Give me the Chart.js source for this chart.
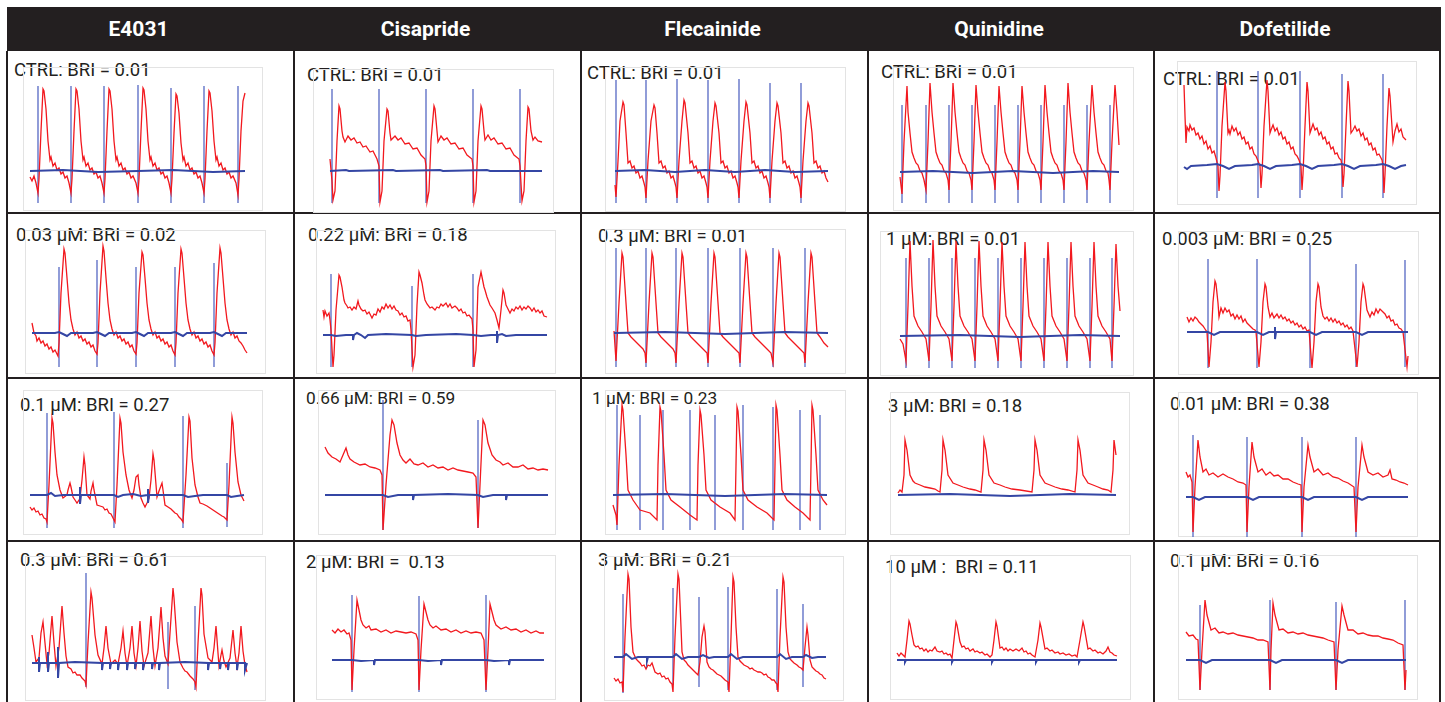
<!DOCTYPE html>
<html>
<head>
<meta charset="utf-8">
<script src="https://cdn.jsdelivr.net/npm/chart.js@4.4.1/dist/chart.umd.min.js"></script>
<style>
  body { margin: 0; background: #fff; }
  #page { position: relative; width: 1445px; height: 702px; overflow: hidden; font-family: Roboto, "Noto Sans", sans-serif; }
  .hdr { position: absolute; left: 7px; top: 7px; width: 1434px; height: 44px; background: #231f20; }
  .htxt { position: absolute; top: 7px; height: 44px; line-height: 44px; color: #fff; font-weight: bold; font-size: 21px; text-align: center; }
  .vl { position: absolute; width: 1.5px; background: #231f20; }
  .hl { position: absolute; height: 1.5px; background: #231f20; }
  .frame { position: absolute; border: 1px solid #e3e3e3; box-sizing: border-box; }
  .lbl { position: absolute; font-size: 18.5px; line-height: 20px; color: #231f20; white-space: pre; }
  canvas { position: absolute; }
</style>
</head>
<body>
<div id="page"></div>
<script>
// column headers and panel captions
const drugs = ['E4031', 'Cisapride', 'Flecainide', 'Quinidine', 'Dofetilide'];
const captions = [
  ['CTRL: BRI = 0.01', 'CTRL: BRI = 0.01', 'CTRL: BRI = 0.01', 'CTRL: BRI = 0.01', 'CTRL: BRI = 0.01'],
  ['0.03 μM: BRI = 0.02', '0.22 μM: BRI = 0.18', '0.3 μM: BRI = 0.01', '1 μM: BRI = 0.01', '0.003 μM: BRI = 0.25'],
  ['0.1 μM: BRI = 0.27', '0.66 μM: BRI = 0.59', '1 μM: BRI = 0.23', '3 μM: BRI = 0.18', '0.01 μM: BRI = 0.38'],
  ['0.3 μM: BRI = 0.61', '2 μM: BRI =  0.13', '3 μM: BRI = 0.21', '10 μM :  BRI = 0.11', '0.1 μM: BRI = 0.16']
];

// traces: red = [time, value], blue = [time, value], stim = [time, top, bottom]
// ---- E4031 ----
const e4031_ctrl_red = [[7,-6],[9,-10],[11,-5],[13,-12],[15,-22],[16,-8],[18,40],[20,82],[21,80],[23,62],[25,30],[27,11],[28,14],[30,5],[32,8],[34,1],[36,3],[38,-3],[40,-1],[42,-7],[44,-5],[46,-12],
  [48,-22],[49,-8],[51,40],[53,82],[54,80],[56,62],[58,30],[60,11],[61,14],[63,5],[65,8],[67,1],[69,3],[71,-3],[73,-1],[75,-7],[77,-5],[79,-12],
  [81,-22],[82,-8],[84,40],[86,82],[87,80],[89,62],[91,30],[93,11],[94,14],[96,5],[98,8],[100,1],[102,3],[104,-3],[106,-1],[108,-7],[110,-5],[113,-12],
  [115,-22],[116,-8],[118,40],[120,83],[121,81],[123,62],[125,30],[127,11],[128,14],[130,5],[132,8],[134,1],[136,3],[138,-3],[140,-1],[142,-7],[144,-5],[146,-12],
  [148,-22],[149,-8],[151,38],[153,77],[154,75],[156,58],[158,28],[160,11],[161,14],[163,5],[165,8],[167,1],[169,3],[171,-3],[173,-1],[175,-7],[177,-5],[179,-12],
  [181,-22],[182,-8],[184,40],[186,80],[187,78],[189,60],[191,30],[193,11],[194,14],[196,5],[198,8],[200,1],[202,3],[204,-3],[206,-1],[208,-7],[210,-5],[213,-12],
  [215,-24],[216,-8],[218,40],[220,70],[222,78]];
const e4031_ctrl_blue = [[7,0],[40,1],[75,-1],[115,0],[150,1],[190,-1],[222,0]];
const e4031_ctrl_stim = [[15,85,-32],[48,85,-32],[81,85,-32],[115,86,-32],[148,83,-32],[181,85,-32],[215,85,-32]];

const e4031_003_red = [[7,10],[9,0],[11,-3],[12,-8],[14,-5],[16,-10],[18,-8],[20,-13],[22,-11],[24,-16],[26,-14],[28,-19],[30,-17],[33,-23],[34,-10],[36,40],[39,84],[40,80],[42,55],[44,30],[46,13],[48,4],[50,-2],[52,1],[54,-5],[56,-3],[58,-8],[60,-6],[62,-11],[64,-9],[66,-14],[68,-12],[70,-18],[72,-21],
  [73,-10],[75,40],[78,87],[79,82],[81,55],[83,30],[85,13],[87,4],[89,-2],[91,1],[93,-5],[95,-3],[97,-8],[99,-6],[101,-11],[103,-9],[105,-14],[107,-12],[109,-18],[111,-21],
  [112,-10],[114,40],[117,81],[118,78],[120,55],[122,30],[124,13],[126,4],[128,-2],[130,1],[132,-5],[134,-3],[136,-8],[138,-6],[140,-11],[142,-9],[144,-14],[146,-12],[148,-18],[150,-22],
  [151,-10],[153,40],[156,84],[157,80],[159,55],[161,30],[163,13],[165,4],[167,-2],[169,1],[171,-5],[173,-3],[175,-8],[177,-6],[179,-11],[181,-9],[183,-14],[185,-12],[187,-18],[189,-22],
  [190,-10],[192,40],[195,85],[196,80],[198,55],[200,30],[202,13],[204,4],[206,-2],[208,1],[210,-5],[212,-3],[214,-8],[216,-10],[218,-13],[220,-17],[222,-20]];
const e4031_003_blue = [[7,0],[30,0],[34,1],[38,-1],[42,-3],[46,0],[68,0],[72,1],[76,-1],[80,-3],[84,0],[107,0],[111,1],[115,-1],[119,-3],[123,0],[146,0],[150,1],[154,-1],[158,-3],[162,0],[185,0],[189,1],[193,-1],[197,-3],[201,0],[222,0]];
const e4031_003_stim = [[34,66,-34],[72,73,-34],[111,66,-34],[150,66,-34],[189,70,-34]];

const e4031_01_red = [[7,-12],[9,-15],[11,-13],[13,-17],[15,-16],[17,-20],[19,-19],[21,-23],[23,-24],[24,-27],[26,10],[29,77],[30,72],[32,43],[34,20],[37,5],[40,-3],[44,0],[45,5],[47,12],[48,8],[50,-2],[52,-5],[54,-8],[56,-5],[57,-3],[59,15],[61,38],[62,30],[64,0],[67,-4],[68,4],[70,12],[71,5],[74,-10],[77,-11],[80,-12],[82,-15],[84,-14],[86,-18],[88,-19],[90,-23],[92,-27],
  [94,10],[97,77],[98,72],[100,43],[103,20],[106,5],[109,-3],[111,5],[113,18],[115,20],[116,10],[118,-3],[120,-8],[122,-12],[124,-8],[126,-3],[128,15],[130,41],[131,35],[134,-2],[136,4],[139,12],[140,5],[142,-10],[145,-12],[148,-14],[150,-16],[152,-18],[154,-19],[156,-22],[158,-24],[160,-27],
  [163,20],[166,78],[167,74],[169,37],[172,10],[175,-2],[177,-8],[180,-9],[184,-11],[187,-13],[190,-15],[193,-17],[196,-19],[199,-21],[201,-22],[204,-25],[206,10],[209,78],[210,72],[212,43],[215,13],[218,0],[221,-6]];
const e4031_01_blue = [[7,0],[24,0],[28,2],[32,-1],[40,0],[57,0],[57,8],[57,-9],[58,0],[70,0],[91,0],[95,-2],[100,0],[110,1],[118,-1],[125,0],[125,6],[125,-8],[126,0],[140,0],[160,0],[165,-2],[172,-1],[180,0],[204,0],[208,-2],[214,-1],[221,0]];
const e4031_01_stim = [[24,82,-33],[91,83,-33],[160,79,-33],[204,32,-32]];

const e4031_03_red = [[7,28],[9,15],[11,1],[14,5],[16,30],[18,41],[20,20],[22,-1],[24,10],[27,47],[29,20],[31,-3],[34,15],[37,57],[39,30],[41,7],[43,-4],[46,-6],[48,-10],[50,-9],[52,-12],[55,-12],[57,-15],[60,-18],[61,-22],[63,20],[66,71],[67,65],[70,28],[73,8],[77,-1],[79,15],[81,37],[83,15],[86,-1],[90,3],[93,-1],[96,15],[98,32],[100,10],[102,-3],[105,15],[107,37],[109,10],[111,-3],[113,15],[115,42],[117,12],[119,-3],[123,10],[126,47],[128,15],[130,-3],[133,15],[136,56],[138,25],[140,7],[143,-1],[145,30],[148,75],[149,65],[152,21],[155,1],[158,-5],[160,-8],[162,-9],[165,-13],[168,-16],[170,-19],[171,-24],[173,20],[176,75],[177,68],[179,29],[183,5],[187,1],[189,15],[191,37],[193,10],[194,-3],[196,8],[197,13],[199,2],[201,-4],[205,5],[208,33],[210,10],[212,-4],[214,10],[216,37],[218,12],[220,-2],[222,-9]];
const e4031_03_blue = [[7,0],[14,0],[14,6],[14,-9],[15,0],[23,0],[23,11],[23,-9],[24,0],[33,0],[33,16],[33,-15],[34,0],[50,1],[77,0],[77,-7],[78,0],[85,0],[85,-6],[86,0],[93,0],[93,-7],[94,0],[102,0],[102,-7],[103,0],[110,0],[110,-6],[111,0],[118,0],[118,-7],[119,0],[127,0],[127,-6],[128,0],[134,0],[134,-7],[135,0],[160,1],[183,0],[183,-7],[184,0],[195,0],[195,-6],[196,0],[203,0],[203,-7],[204,0],[212,0],[212,-7],[213,0],[220,0],[220,-7],[222,0]];
const e4031_03_stim = [[61,90,-24],[143,41,-26],[170,57,-27]];

// ---- Cisapride ----
const cisa_ctrl_red = [[17,12],[19,-10],[20,-29],[22,-20],[24,30],[26,65],[27,62],[29,40],[30,34],[32,29],[35,35],[38,31],[41,33],[44,28],[47,29],[50,24],[53,25],[57,19],[60,20],[64,12],
  [66,5],[67,-31],[69,-20],[71,30],[74,62],[75,60],[77,38],[78,31],[82,35],[85,31],[88,33],[92,27],[96,28],[100,22],[104,23],[108,16],[112,12],
  [113,5],[114,-31],[116,-20],[118,30],[121,65],[122,62],[124,40],[125,29],[128,35],[131,31],[134,33],[138,27],[142,28],[146,22],[150,23],[154,16],[159,12],
  [160,5],[161,-31],[163,-20],[165,30],[168,65],[169,62],[171,40],[172,31],[175,36],[178,31],[181,33],[185,27],[189,28],[193,22],[197,23],[201,16],[206,12],
  [207,5],[209,-30],[211,-20],[213,30],[215,64],[216,62],[218,40],[220,31],[222,34],[225,30],[229,29]];
const cisa_ctrl_blue = [[17,0],[33,1],[36,0],[80,1],[83,0],[127,1],[130,0],[174,1],[177,0],[229,0]];
const cisa_ctrl_stim = [[19,82,-32],[66,82,-32],[113,82,-32],[160,82,-32],[207,82,-32]];

const cisa_022_red = [[7,25],[8,18],[9,24],[11,19],[13,22],[14,15],[15,5],[17,-32],[18,-20],[20,25],[23,60],[24,58],[26,48],[28,35],[29,32],[31,29],[32,27],[34,28],[36,25],[38,28],[40,26],[42,34],[43,30],[45,26],[47,24],[49,25],[51,21],[53,23],[56,17],[58,21],[60,20],[62,26],[64,23],[66,28],[68,26],[70,31],[72,27],[74,30],[76,26],[78,29],[80,25],[82,24],[84,20],[86,22],[88,18],[90,19],[92,14],[94,15],[95,5],[97,-32],[99,-20],[101,30],[103,63],[104,60],[106,52],[108,40],[109,35],[111,31],[114,27],[116,28],[119,25],[121,28],[123,27],[125,31],[127,29],[130,32],[132,28],[134,31],[136,27],[139,29],[141,27],[143,24],[145,26],[147,22],[149,23],[151,19],[153,20],[156,16],[157,5],[158,-32],[160,-15],[162,48],[165,63],[166,58],[168,48],[169,45],[171,38],[174,30],[176,27],[179,22],[181,15],[183,7],[185,25],[187,45],[188,42],[190,30],[191,28],[194,22],[196,26],[198,24],[200,28],[202,26],[204,29],[206,25],[208,28],[210,26],[212,29],[214,27],[216,24],[218,27],[220,23],[222,25],[224,22],[226,24],[228,19],[231,18]];
const cisa_022_blue = [[7,0],[15,0],[20,-1],[30,0],[37,0],[37,-5],[38,0],[41,2],[45,0],[49,-3],[52,0],[70,1],[96,0],[100,-1],[110,0],[140,1],[157,0],[165,-1],[175,0],[181,0],[181,4],[181,-8],[182,0],[186,1],[190,-1],[200,0],[231,0]];
const cisa_022_stim = [[15,61,-32],[96,49,-32],[157,61,-32]];

const cisa_066_red = [[7,48],[10,42],[14,38],[18,36],[22,33],[25,40],[28,47],[30,40],[32,36],[36,33],[42,30],[47,31],[52,28],[57,27],[62,25],[64,20],[65,-35],[68,10],[72,60],[74,75],[76,70],[79,52],[82,40],[85,35],[88,32],[92,36],[96,31],[100,30],[105,32],[110,28],[115,30],[120,27],[125,28],[130,25],[135,27],[140,25],[145,24],[150,23],[155,22],[158,18],[160,-33],[162,10],[165,75],[167,70],[170,52],[174,40],[178,35],[182,33],[185,30],[190,32],[195,28],[200,28],[205,30],[210,26],[215,27],[220,25],[225,26],[230,25]];
const cisa_066_blue = [[7,0],[65,0],[70,-2],[80,0],[95,0],[95,-5],[96,0],[130,1],[160,0],[165,-2],[175,0],[188,0],[188,-5],[189,0],[230,0]];
const cisa_066_stim = [[65,95,-35],[160,75,-33]];

const cisa_2_red = [[16,30],[19,27],[22,31],[25,28],[28,30],[31,26],[33,27],[35,20],[36,-30],[38,10],[41,60],[43,50],[45,40],[47,35],[50,32],[53,34],[55,30],[60,31],[65,28],[70,30],[75,27],[80,29],[85,28],[90,27],[95,28],[100,26],[102,20],[103,-30],[105,10],[108,56],[110,48],[112,40],[114,35],[117,32],[120,34],[125,30],[130,31],[135,28],[140,30],[145,27],[150,29],[155,27],[160,28],[165,27],[168,20],[170,-30],[172,10],[174,56],[176,48],[178,40],[180,35],[185,31],[190,33],[195,30],[200,31],[205,28],[210,30],[215,27],[220,29],[224,27],[228,27]];
const cisa_2_blue = [[16,0],[36,0],[45,-1],[58,0],[58,-5],[59,0],[103,0],[112,-1],[125,0],[125,-5],[126,0],[170,0],[178,-1],[193,0],[193,-5],[194,0],[228,0]];
const cisa_2_stim = [[36,65,-32],[103,64,-32],[170,65,-32]];

// ---- Flecainide ----
const fleca_ctrl_red = [[10,-14],[11,-26],[13,10],[15,50],[18,69],[19,66],[21,38],[23,8],[25,10],[27,3],[29,5],[31,-2],[33,0],[35,-7],[37,-5],[39,-12],[40,-16],
  [41,-27],[43,10],[46,50],[49,66],[50,63],[52,38],[54,8],[56,10],[58,3],[60,5],[62,-2],[64,0],[66,-7],[68,-5],[70,-12],[71,-16],
  [72,-27],[74,10],[77,50],[79,71],[80,68],[83,38],[85,8],[87,10],[89,3],[91,5],[93,-2],[95,0],[97,-7],[99,-5],[101,-12],[102,-16],
  [103,-27],[105,10],[108,50],[110,68],[111,65],[114,38],[116,8],[118,10],[120,3],[122,5],[124,-2],[126,0],[128,-7],[130,-5],[132,-12],[133,-16],
  [134,-27],[136,10],[139,50],[141,69],[142,66],[145,38],[147,8],[149,10],[151,3],[153,5],[155,-2],[157,0],[159,-7],[161,-5],[163,-12],[164,-16],
  [165,-27],[167,10],[170,50],[172,68],[173,65],[176,38],[178,8],[180,10],[182,3],[184,5],[186,-2],[188,0],[190,-7],[192,-5],[194,-12],[195,-16],
  [196,-27],[198,10],[201,50],[203,68],[204,65],[207,38],[209,8],[211,10],[213,3],[215,5],[217,-2],[219,0],[221,-7],[223,-11]];
const fleca_ctrl_blue = [[10,0],[40,1],[70,-1],[100,1],[130,-1],[160,1],[190,-1],[223,0]];
const fleca_ctrl_stim = [[11,91,-32],[41,91,-32],[72,92,-32],[103,91,-32],[134,92,-32],[165,88,-32],[196,88,-32]];

const fleca_03_red = [[9,2],[11,-28],[14,30],[17,80],[18,76],[21,30],[23,0],[26,-4],[30,-8],[34,-12],[38,-16],[40,-20],[41,-30],[44,30],[47,80],[48,76],[51,30],[53,0],[56,-4],[60,-8],[64,-12],[68,-16],[70,-20],[71,-30],[74,30],[77,80],[78,76],[81,30],[83,0],[86,-4],[90,-8],[94,-12],[98,-16],[102,-20],[103,-30],[106,30],[109,80],[110,76],[113,30],[115,0],[118,-4],[122,-8],[126,-12],[130,-16],[134,-20],[135,-30],[138,30],[141,80],[142,76],[145,30],[147,0],[150,-4],[154,-8],[158,-12],[162,-16],[166,-20],[168,-30],[171,30],[174,80],[175,76],[178,30],[180,0],[183,-4],[187,-8],[191,-12],[195,-16],[199,-20],[200,-30],[203,30],[206,80],[207,76],[210,30],[212,0],[215,-4],[219,-10],[223,-14]];
const fleca_03_blue = [[9,0],[60,1],[120,-1],[180,1],[223,0]];
const fleca_03_stim = [[11,85,-34],[41,85,-34],[71,85,-34],[103,85,-34],[135,85,-34],[168,85,-34],[200,85,-34]];

const fleca_1_red = [[8,-10],[11,-20],[12,-30],[14,30],[17,90],[18,85],[21,40],[23,5],[28,-5],[35,-15],[45,-18],[52,-25],[53,30],[55,88],[56,84],[59,40],[61,5],[66,-5],[75,-12],[85,-20],[92,-25],[93,30],[95,85],[96,80],[99,40],[101,5],[106,-5],[115,-12],[125,-18],[130,-25],[131,30],[132,88],[133,84],[136,40],[138,5],[143,-5],[152,-12],[162,-18],[169,-25],[170,30],[171,90],[172,85],[175,40],[177,5],[182,-5],[190,-12],[198,-18],[205,-25],[206,30],[207,90],[208,85],[211,40],[213,5],[218,-5],[222,-10]];
const fleca_1_blue = [[8,0],[60,1],[120,-1],[180,1],[222,0]];
const fleca_1_stim = [[12,90,-35],[35,80,-35],[58,85,-35],[85,85,-35],[110,80,-35],[138,90,-35],[168,88,-35],[195,85,-35],[215,80,-35]];

const fleca_3_red = [[10,-21],[12,-24],[14,-22],[16,-26],[18,-25],[19,-35],[21,20],[24,83],[25,78],[27,30],[29,5],[32,-2],[34,-4],[36,-6],[38,-9],[40,-8],[42,-12],[44,-8],[46,-9],[48,-6],[50,-12],[51,-15],[54,-17],[56,-16],[58,-20],[60,-19],[62,-22],[64,-21],[66,-25],[68,-27],[69,-35],[71,20],[74,83],[75,78],[77,30],[78,5],[80,-3],[82,-5],[84,-8],[86,-10],[88,-12],[90,-14],[92,-16],[94,-18],[96,-5],[98,20],[100,31],[101,25],[103,-5],[105,-10],[107,-12],[109,-13],[111,-15],[113,-17],[115,-18],[117,-19],[119,-21],[121,-23],[124,-25],[125,-35],[127,20],[129,80],[130,75],[132,30],[134,0],[136,-4],[138,-6],[140,-8],[142,-9],[144,-10],[146,-12],[148,-11],[150,-13],[152,-14],[154,-15],[156,-15],[158,-16],[160,-18],[162,-17],[164,-20],[166,-21],[168,-23],[170,-23],[172,-26],[173,-27],[174,-35],[176,20],[179,80],[180,75],[182,30],[184,5],[186,-2],[188,-4],[190,-6],[193,-8],[195,-10],[197,-11],[199,-13],[201,10],[203,30],[204,22],[206,-3],[208,-10],[210,-12],[212,-14],[214,-15],[216,-17],[218,-18],[220,-21],[222,-22]];
const fleca_3_blue = [[10,0],[19,0],[22,3],[28,-2],[34,0],[43,0],[43,-4],[44,0],[69,0],[72,3],[78,-2],[84,0],[95,0],[99,2],[105,-1],[110,0],[124,0],[127,3],[133,-2],[139,0],[173,0],[176,3],[182,-2],[188,0],[199,0],[202,2],[208,-1],[214,0],[222,0]];
const fleca_3_stim = [[19,63,-36],[69,69,-28],[95,60,-30],[124,70,-33],[173,68,-33],[199,53,-30]];

// ---- Quinidine ----
const quin_ctrl_red = [[7,-5],[9,-22],[11,30],[14,86],[15,60],[17,39],[19,20],[21,14],[23,9],[25,7],[27,1],[29,-1],[31,-8],
  [33,-18],[35,30],[37,89],[39,60],[41,39],[43,20],[45,14],[47,9],[49,7],[51,1],[53,-1],[55,-8],
  [56,-18],[58,30],[60,89],[62,60],[64,39],[66,20],[68,14],[70,9],[72,7],[74,1],[76,-1],[78,-8],
  [79,-18],[81,30],[83,87],[85,60],[87,39],[89,20],[91,14],[93,9],[95,7],[97,1],[99,-1],[101,-8],
  [102,-18],[104,30],[106,86],[108,60],[110,39],[112,20],[114,14],[116,9],[118,7],[120,1],[122,-1],[124,-8],
  [125,-18],[127,30],[129,86],[131,60],[133,39],[135,20],[137,14],[139,9],[141,7],[143,1],[145,-1],[147,-8],
  [148,-18],[150,30],[152,87],[154,60],[156,39],[158,20],[160,14],[162,9],[164,7],[166,1],[168,-1],[170,-8],
  [171,-18],[173,30],[175,89],[177,60],[179,39],[181,20],[183,14],[185,9],[187,7],[189,1],[191,-1],[193,-8],
  [194,-18],[196,30],[199,87],[201,60],[203,39],[205,20],[207,14],[209,9],[211,7],[213,1],[215,-1],[216,-8],
  [217,-18],[219,30],[222,87],[224,60],[226,27]];
const quin_ctrl_blue = [[7,0],[40,1],[80,-1],[120,1],[160,-1],[200,1],[226,0]];
const quin_ctrl_stim = [[9,67,-31],[33,67,-31],[56,67,-31],[79,67,-31],[102,67,-31],[125,67,-31],[148,67,-31],[171,67,-31],[194,67,-31],[217,67,-31]];

const quin_1_red = [[20,-3],[23,-8],[26,-25],[28,30],[30,95],[32,50],[34,20],[38,10],[42,4],[46,-3],
  [49,-25],[51,30],[53,96],[55,50],[57,20],[61,10],[65,4],[69,-3],
  [72,-25],[74,30],[76,95],[78,50],[80,20],[84,10],[88,4],[92,-3],
  [95,-25],[97,30],[99,95],[101,50],[103,20],[107,10],[111,4],[115,-3],
  [118,-25],[120,30],[122,94],[124,50],[126,20],[130,10],[134,4],[138,-3],
  [141,-25],[143,30],[145,94],[147,50],[149,20],[153,10],[157,4],[161,-3],
  [164,-25],[166,30],[168,94],[170,50],[172,20],[176,10],[180,4],[184,-3],
  [187,-25],[189,30],[191,94],[193,50],[195,20],[199,10],[203,4],[207,-3],
  [210,-25],[212,30],[214,94],[216,50],[218,20],[222,10],[226,4],[230,-3],
  [232,-25],[234,30],[236,92],[238,50],[240,25]];
const quin_1_blue = [[20,0],[80,1],[140,-1],[200,1],[240,0]];
const quin_1_stim = [[26,78,-32],[49,78,-32],[72,78,-32],[95,78,-32],[118,78,-32],[141,78,-32],[164,78,-32],[187,78,-32],[210,78,-32],[232,78,-32]];

const quin_3_red = [[8,2],[10,5],[12,3],[14,20],[15,55],[17,45],[20,20],[23,14],[25,12],[30,10],[35,8],[40,7],[45,6],[48,4],[50,3],[52,25],[53,55],[55,45],[58,20],[63,12],[68,10],[73,8],[80,6],[85,5],[91,3],[93,25],[94,55],[96,45],[99,20],[104,12],[110,10],[115,8],[122,6],[130,5],[142,3],[144,25],[145,55],[147,45],[150,20],[155,12],[160,10],[165,8],[172,6],[178,5],[185,3],[187,25],[188,55],[190,45],[193,20],[198,12],[203,10],[208,8],[213,6],[218,5],[221,3],[223,25],[224,55],[226,40]];
const quin_3_blue = [[8,0],[60,1],[120,-1],[180,1],[226,0]];
const quin_3_stim = [];

const quin_10_red = [[7,7],[9,4],[11,7],[13,5],[15,3],[17,20],[19,39],[20,36],[22,25],[24,15],[26,13],[28,14],[30,11],[32,12],[34,9],[36,11],[38,8],[40,10],[42,9],[45,13],[47,9],[50,8],[52,9],[54,6],[56,7],[58,5],[60,6],[62,2],[64,20],[66,38],[67,35],[70,18],[72,13],[74,14],[76,11],[78,12],[80,9],[83,11],[85,8],[87,9],[90,7],[92,8],[95,5],[97,6],[100,3],[102,5],[104,20],[106,38],[107,34],[110,12],[112,13],[114,10],[116,12],[118,9],[120,11],[123,9],[126,11],[129,9],[132,12],[134,8],[136,9],[138,6],[140,7],[142,5],[145,3],[148,20],[150,37],[151,33],[155,11],[157,12],[160,9],[162,10],[165,7],[168,8],[170,6],[173,7],[176,5],[179,6],[182,4],[185,5],[187,3],[190,20],[193,38],[194,34],[198,11],[200,12],[203,9],[205,10],[208,7],[210,8],[213,6],[216,9],[218,13],[220,8],[222,7],[224,5],[227,4]];
const quin_10_blue = [[7,0],[15,0],[15,-2],[16,0],[62,0],[62,-2],[63,0],[102,0],[102,-2],[103,0],[146,0],[146,-2],[147,0],[189,0],[189,-2],[190,0],[227,0]];
const quin_10_stim = [];

// ---- Dofetilide ----
const dofe_ctrl_red = [[7,81],[8,50],[9,23],[10,39],[12,35],[13,41],[15,36],[17,38],[19,31],[21,33],[23,27],[25,30],[27,22],[29,25],[31,17],[33,20],[35,13],[37,15],[39,8],[41,0],[42,-25],[43,-10],[45,40],[48,84],[49,75],[51,33],[52,36],[53,32],[55,40],[57,35],[59,38],[61,31],[63,34],[65,27],[67,29],[69,22],[71,24],[73,17],[75,19],[77,12],[79,10],[81,5],
  [83,0],[84,-22],[85,-8],[87,40],[90,86],[91,75],[93,33],[94,36],[96,41],[98,35],[100,38],[102,31],[104,34],[106,27],[108,29],[110,22],[112,24],[114,17],[116,19],[118,12],[120,10],[122,6],
  [124,0],[125,-24],[126,-8],[128,40],[130,84],[131,75],[133,33],[134,36],[136,42],[138,36],[140,38],[142,31],[144,34],[146,27],[148,29],[150,22],[152,24],[154,17],[156,19],[158,12],[160,13],[162,8],[164,6],
  [165,0],[166,-21],[167,-8],[169,40],[171,85],[172,75],[174,33],[176,36],[178,40],[180,35],[182,37],[184,30],[186,33],[188,26],[190,28],[192,21],[194,23],[196,16],[198,18],[200,11],[202,12],[204,8],[205,6],
  [206,0],[207,-27],[208,-8],[210,40],[212,78],[213,70],[216,24],[218,35],[220,42],[222,34],[224,37],[226,29],[229,26]];
const dofe_ctrl_blue = [[7,-1],[10,-3],[14,0],[30,1],[40,2],[46,0],[52,-3],[58,0],[75,1],[81,2],[87,0],[93,-3],[99,0],[115,1],[123,2],[129,0],[135,-3],[141,0],[157,1],[165,2],[171,0],[177,-3],[183,0],[199,1],[206,2],[212,0],[218,-3],[224,0],[229,1]];
const dofe_ctrl_stim = [[40,95,-32],[81,95,-32],[123,95,-32],[165,92,-32],[206,92,-32]];

const dofe_0003_red = [[9,15],[11,10],[13,14],[15,11],[17,15],[19,13],[21,10],[23,8],[25,6],[27,3],[29,0],[31,-35],[33,-10],[35,30],[37,51],[38,48],[40,29],[41,15],[43,24],[45,19],[47,24],[49,20],[51,22],[53,16],[55,18],[57,13],[59,17],[61,13],[63,16],[65,10],[67,13],[69,9],[71,7],[73,5],[75,3],[77,2],[78,0],[81,-35],[83,-10],[85,30],[87,48],[88,45],[90,25],[92,15],[94,19],[96,14],[99,18],[101,14],[103,17],[105,13],[107,15],[109,11],[111,13],[113,9],[115,11],[117,7],[119,9],[121,5],[123,7],[125,3],[127,5],[129,1],[131,2],[134,-36],[136,-10],[138,30],[140,48],[141,45],[143,25],[145,16],[147,13],[149,15],[151,11],[153,14],[155,10],[157,13],[159,9],[161,11],[163,7],[165,9],[167,5],[169,7],[171,3],[173,5],[175,1],[179,-35],[181,-10],[183,30],[185,48],[186,45],[189,22],[192,15],[194,20],[196,17],[198,23],[200,19],[202,23],[205,20],[207,18],[209,14],[211,16],[213,11],[215,12],[217,7],[219,8],[221,4],[223,3],[225,0],[229,-35],[230,-24]];
const dofe_0003_blue = [[9,0],[30,0],[36,-3],[42,0],[79,0],[85,-3],[91,0],[97,0],[97,5],[97,-7],[98,0],[132,0],[138,-3],[144,0],[178,0],[184,-3],[190,0],[230,0]];
const dofe_0003_stim = [[30,73,-36],[79,73,-36],[132,87,-36],[178,68,-35],[227,72,-35]];

const dofe_001_red = [[8,25],[10,20],[12,22],[14,15],[15,-35],[17,10],[20,57],[22,40],[25,25],[28,28],[31,22],[35,24],[40,20],[45,23],[50,20],[55,18],[60,15],[65,14],[68,12],[69,-35],[71,10],[74,55],[76,40],[80,25],[84,28],[88,22],[92,25],[96,21],[100,22],[105,18],[110,18],[115,15],[120,13],[123,12],[124,-35],[126,10],[130,52],[132,40],[136,25],[140,28],[145,22],[150,24],[155,20],[160,19],[165,16],[170,14],[176,10],[178,-35],[180,10],[184,52],[186,40],[190,25],[195,22],[200,24],[205,20],[210,22],[212,27],[214,18],[218,17],[222,15],[226,14],[230,12]];
const dofe_001_blue = [[8,0],[15,0],[21,-3],[27,0],[69,0],[75,-3],[81,0],[124,0],[130,-3],[136,0],[178,0],[184,-3],[190,0],[230,0]];
const dofe_001_stim = [[15,62,-41],[69,60,-41],[124,60,-41],[178,60,-41]];

const dofe_01_red = [[8,28],[11,24],[15,25],[18,21],[20,20],[22,-30],[24,10],[27,60],[29,45],[33,30],[37,32],[41,27],[45,28],[50,26],[55,27],[60,25],[65,24],[70,23],[75,22],[80,20],[85,20],[90,18],[92,-30],[93,10],[95,57],[97,45],[101,30],[105,31],[110,27],[115,28],[120,26],[125,27],[130,25],[135,24],[140,23],[145,22],[150,20],[156,18],[158,-30],[160,10],[164,54],[166,45],[170,30],[175,30],[180,26],[185,27],[190,25],[195,24],[200,24],[205,22],[210,21],[215,20],[220,17],[225,15],[227,-30],[228,-10]];
const dofe_01_blue = [[8,0],[22,0],[28,-3],[34,0],[92,0],[98,-3],[104,0],[158,0],[164,-3],[170,0],[228,0]];
const dofe_01_stim = [[22,55,-30],[92,60,-30],[158,58,-30],[227,60,-30]];

// panel layout: frame [left, top, right, bottom], baseline y, caption [left, centre y, font px]
const panels = [
  { r: 0, c: 0, frame: [23, 67, 263, 211], base: 171, cap: [14, 70, 18.5], red: e4031_ctrl_red, blue: e4031_ctrl_blue, stim: e4031_ctrl_stim },
  { r: 0, c: 1, frame: [313, 69, 554, 213], base: 171, cap: [307, 75, 18.5], red: cisa_ctrl_red, blue: cisa_ctrl_blue, stim: cisa_ctrl_stim },
  { r: 0, c: 2, frame: [605, 67, 846, 212], base: 171, cap: [587, 73, 18.5], red: fleca_ctrl_red, blue: fleca_ctrl_blue, stim: fleca_ctrl_stim },
  { r: 0, c: 3, frame: [893, 67, 1134, 211], base: 172, cap: [881, 72, 18.5], red: quin_ctrl_red, blue: quin_ctrl_blue, stim: quin_ctrl_stim },
  { r: 0, c: 4, frame: [1177, 61, 1417, 205], base: 166, cap: [1163, 79, 18.5], red: dofe_ctrl_red, blue: dofe_ctrl_blue, stim: dofe_ctrl_stim },
  { r: 1, c: 0, frame: [25, 230, 266, 374], base: 333, cap: [16, 235, 18.5], red: e4031_003_red, blue: e4031_003_blue, stim: e4031_003_stim },
  { r: 1, c: 1, frame: [316, 230, 556, 374], base: 335, cap: [308, 235, 18.5], red: cisa_022_red, blue: cisa_022_blue, stim: cisa_022_stim },
  { r: 1, c: 2, frame: [605, 229, 846, 374], base: 333, cap: [598, 236, 18.5], red: fleca_03_red, blue: fleca_03_blue, stim: fleca_03_stim },
  { r: 1, c: 3, frame: [880, 231, 1134, 376], base: 336, cap: [886, 239, 18.5], red: quin_1_red, blue: quin_1_blue, stim: quin_1_stim },
  { r: 1, c: 4, frame: [1178, 231, 1419, 375], base: 332, cap: [1162, 239, 18.5], red: dofe_0003_red, blue: dofe_0003_blue, stim: dofe_0003_stim },
  { r: 2, c: 0, frame: [23, 390, 263, 535], base: 495, cap: [20, 405, 18.5], red: e4031_01_red, blue: e4031_01_blue, stim: e4031_01_stim },
  { r: 2, c: 1, frame: [318, 390, 556, 535], base: 495, cap: [306, 398, 17.3], red: cisa_066_red, blue: cisa_066_blue, stim: cisa_066_stim },
  { r: 2, c: 2, frame: [605, 390, 846, 535], base: 495, cap: [592, 398, 17.3], red: fleca_1_red, blue: fleca_1_blue, stim: fleca_1_stim },
  { r: 2, c: 3, frame: [890, 392, 1130, 535], base: 495, cap: [888, 406, 18.5], red: quin_3_red, blue: quin_3_blue, stim: quin_3_stim },
  { r: 2, c: 4, frame: [1178, 392, 1418, 537], base: 497, cap: [1170, 404, 18.5], red: dofe_001_red, blue: dofe_001_blue, stim: dofe_001_stim },
  { r: 3, c: 0, frame: [25, 556, 266, 701], base: 663, cap: [20, 560, 18.5], red: e4031_03_red, blue: e4031_03_blue, stim: e4031_03_stim },
  { r: 3, c: 1, frame: [316, 555, 556, 700], base: 660, cap: [306, 562, 18.5], red: cisa_2_red, blue: cisa_2_blue, stim: cisa_2_stim },
  { r: 3, c: 2, frame: [604, 556, 844, 701], base: 657, cap: [598, 560, 18.5], red: fleca_3_red, blue: fleca_3_blue, stim: fleca_3_stim },
  { r: 3, c: 3, frame: [890, 555, 1131, 700], base: 660, cap: [885, 567, 18.5], red: quin_10_red, blue: quin_10_blue, stim: quin_10_stim },
  { r: 3, c: 4, frame: [1178, 555, 1418, 700], base: 660, cap: [1170, 561, 18.5], red: dofe_01_red, blue: dofe_01_blue, stim: dofe_01_stim }
];

const colX = [7, 294, 581, 868, 1154, 1440];
const rowY = [51, 213, 378, 541];

const page = document.getElementById('page');

function addDiv(cls, css, text) {
  const d = document.createElement('div');
  d.className = cls;
  Object.assign(d.style, css);
  if (text !== undefined) d.textContent = text;
  page.appendChild(d);
  return d;
}

// table frame
addDiv('hdr', {});
drugs.forEach((name, i) => {
  const mid = (colX[i] + colX[i + 1]) / 2 - 12;
  addDiv('htxt', { left: (mid - 100) + 'px', width: '200px' }, name);
});
colX.forEach(x => addDiv('vl', { left: (x - 0.75) + 'px', top: '51px', height: '651px' }));
rowY.slice(1).forEach(y => addDiv('hl', { top: (y - 0.75) + 'px', left: '7px', width: '1434px' }));

function toXY(arr) {
  return arr.map(p => ({ x: p[0], y: p[1] }));
}

function stimLines(arr) {
  const out = [];
  arr.forEach(s => {
    out.push({ x: s[0], y: s[1] }, { x: s[0], y: s[2] }, { x: s[0], y: null });
  });
  return out;
}

panels.forEach(p => {
  const [l, t, r, b] = p.frame;
  const w = r - l, h = b - t;

  addDiv('lbl', { left: p.cap[0] + 'px', top: (p.cap[1] - 10) + 'px', fontSize: p.cap[2] + 'px' }, captions[p.r][p.c]);
  addDiv('frame', { left: l + 'px', top: t + 'px', width: w + 'px', height: h + 'px' });

  const cv = document.createElement('canvas');
  cv.width = w;
  cv.height = h;
  cv.style.left = l + 'px';
  cv.style.top = t + 'px';
  page.appendChild(cv);

  new Chart(cv.getContext('2d'), {
    type: 'line',
    data: {
      datasets: [
        { data: toXY(p.blue), borderColor: '#3446a4', borderWidth: 2 },
        { data: toXY(p.red), borderColor: '#f2181e', borderWidth: 1.3 },
        { data: stimLines(p.stim), borderColor: 'rgba(70,90,190,0.85)', borderWidth: 1.4, spanGaps: false }
      ]
    },
    options: {
      responsive: false,
      animation: false,
      events: [],
      layout: { padding: 0 },
      elements: { point: { radius: 0 }, line: { tension: 0 } },
      plugins: { legend: { display: false }, tooltip: { enabled: false } },
      scales: {
        x: { type: 'linear', display: false, min: 0, max: w },
        y: { display: false, min: p.base - b, max: p.base - t }
      }
    }
  });
});
</script>
</body>
</html>
